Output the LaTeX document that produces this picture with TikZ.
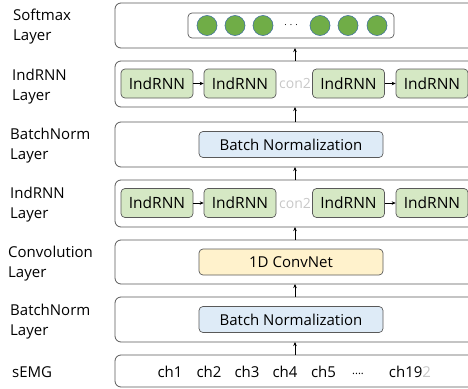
\documentclass[tikz,border=0pt]{standalone}
\usepackage{fontspec}
\setmainfont{Open Sans}
\usetikzlibrary{arrows.meta}
\definecolor{edge}{HTML}{595959}
\definecolor{cellfill}{HTML}{D5E8C4}
\definecolor{bnfill}{HTML}{DEEBF7}
\definecolor{convfill}{HTML}{FFF2CC}
\definecolor{dotfill}{HTML}{70AD47}
\definecolor{dotedge}{HTML}{41719C}
\definecolor{faint}{HTML}{C8C8C8}
\tikzset{
  layerbox/.style={draw=edge, line width=0.8pt, rounded corners=6pt},
  cell/.style={draw=edge, line width=0.7pt, rounded corners=4pt, fill=cellfill,
    minimum width=72pt, minimum height=29pt, inner sep=0pt, font=\fontsize{15.5}{18}\selectfont},
  widebox/.style={draw=edge, line width=0.7pt, rounded corners=4pt,
    minimum width=184pt, minimum height=26pt, inner sep=0pt, font=\fontsize{15}{18}\selectfont},
  lbl/.style={anchor=west, align=left, inner sep=0pt, font=\fontsize{15}{20}\selectfont},
  ch/.style={inner sep=0pt, font=\fontsize{15}{18}\selectfont},
  dot/.style={circle, draw=dotedge, line width=0.6pt, fill=dotfill, minimum size=20pt, inner sep=0pt},
  arr/.style={-{Stealth[length=4pt,width=3.5pt]}, line width=0.6pt, black},
  faintlbl/.style={text=faint, inner sep=0pt, font=\fontsize{14}{16}\selectfont}
}
\begin{document}
\begin{tikzpicture}[x=1pt,y=-1pt]
\useasboundingbox (0,0) rectangle (468,388);
\clip (0,0) rectangle (468,388);
% layer boxes
\draw[layerbox] (115,3) rectangle (480,48);
\draw[layerbox] (115,61) rectangle (480,107);
\draw[layerbox] (115,122) rectangle (480,167);
\draw[layerbox] (115,180) rectangle (480,227);
\draw[layerbox] (115,240) rectangle (480,284);
\draw[layerbox] (115,297) rectangle (480,342);
\draw[layerbox] (115,355) rectangle (480,387);
\coordinate (sm) at (295,48);
\coordinate (r1t) at (295,61);
\coordinate (r1b) at (295,107);
\coordinate (bn1t) at (295,122);
\coordinate (bn1b) at (295,167);
\coordinate (r2t) at (295,180);
\coordinate (r2b) at (295,227);
\coordinate (cvt) at (295,240);
\coordinate (cvb) at (295,284);
\coordinate (bn2t) at (295,297);
\coordinate (bn2b) at (295,342);
\coordinate (inp) at (295,355);
% left labels
\node[lbl] (l1) at (13,27) {Softmax\\Layer};
\node[lbl] (l2) at (12,87) {IndRNN\\Layer};
\node[lbl] (l3) at (10,146) {BatchNorm\\Layer};
\node[lbl] (l4) at (10,205) {IndRNN\\Layer};
\node[lbl] (l5) at (8,264) {Convolution\\Layer};
\node[lbl] (l6) at (10,322) {BatchNorm\\Layer};
\node[lbl] (l7) at (12,372) {sEMG};
% softmax
\node[draw=edge, line width=0.7pt, rounded corners=4pt, minimum width=206pt, minimum height=25pt, inner sep=0pt] (smbox) at (291,25.5) {};
\node[dot] (d1) at (207,25.5) {};
\node[dot] (d2) at (235,25.5) {};
\node[dot] (d3) at (263,25.5) {};
\node[inner sep=0pt, font=\fontsize{9}{10}\selectfont] (dd) at (291,25.5) {. . .};
\node[dot] (d4) at (320,25.5) {};
\node[dot] (d5) at (348,25.5) {};
\node[dot] (d6) at (377,25.5) {};
% IndRNN row 1
\node[cell] (a1) at (157,83.5) {IndRNN};
\node[cell] (a2) at (240,83.5) {IndRNN};
\node[faintlbl] (ac) at (295,83.5) {con2};
\node[cell] (a3) at (348.5,83.5) {IndRNN};
\node[cell] (a4) at (432,83.5) {IndRNN};
\draw[arr] (a1) -- (a2);
\draw[arr] (a3) -- (a4);
% BN 1
\node[widebox, fill=bnfill] (bn1) at (291,144.5) {Batch Normalization};
% IndRNN row 2
\node[cell] (b1) at (157,203) {IndRNN};
\node[cell] (b2) at (240,203) {IndRNN};
\node[faintlbl] (bc) at (295,203) {con2};
\node[cell] (b3) at (348.5,203) {IndRNN};
\node[cell] (b4) at (432,203) {IndRNN};
\draw[arr] (b1) -- (b2);
\draw[arr] (b3) -- (b4);
% conv
\node[widebox, fill=convfill] (cv) at (291,262) {1D ConvNet};
% BN 2
\node[widebox, fill=bnfill] (bn2) at (291,319.5) {Batch Normalization};
% channels
\node[ch] (c1) at (170,371.5) {ch1};
\node[ch] (c2) at (209,371.5) {ch2};
\node[ch] (c3) at (247,371.5) {ch3};
\node[ch] (c4) at (285,371.5) {ch4};
\node[ch] (c5) at (323.5,371.5) {ch5};
\node[ch, font=\fontsize{11}{12}\selectfont] (cd) at (358,373.5) {....};
\node[ch] (c6) at (410,371.5) {ch19\textcolor{faint}{2}};
% vertical arrows
\draw[arr] (r1t) -- (sm);
\draw[arr] (bn1t) -- (r1b);
\draw[arr] (r2t) -- (bn1b);
\draw[arr] (cvt) -- (r2b);
\draw[arr] (bn2t) -- (cvb);
\draw[arr] (inp) -- (bn2b);
\end{tikzpicture}
\end{document}
